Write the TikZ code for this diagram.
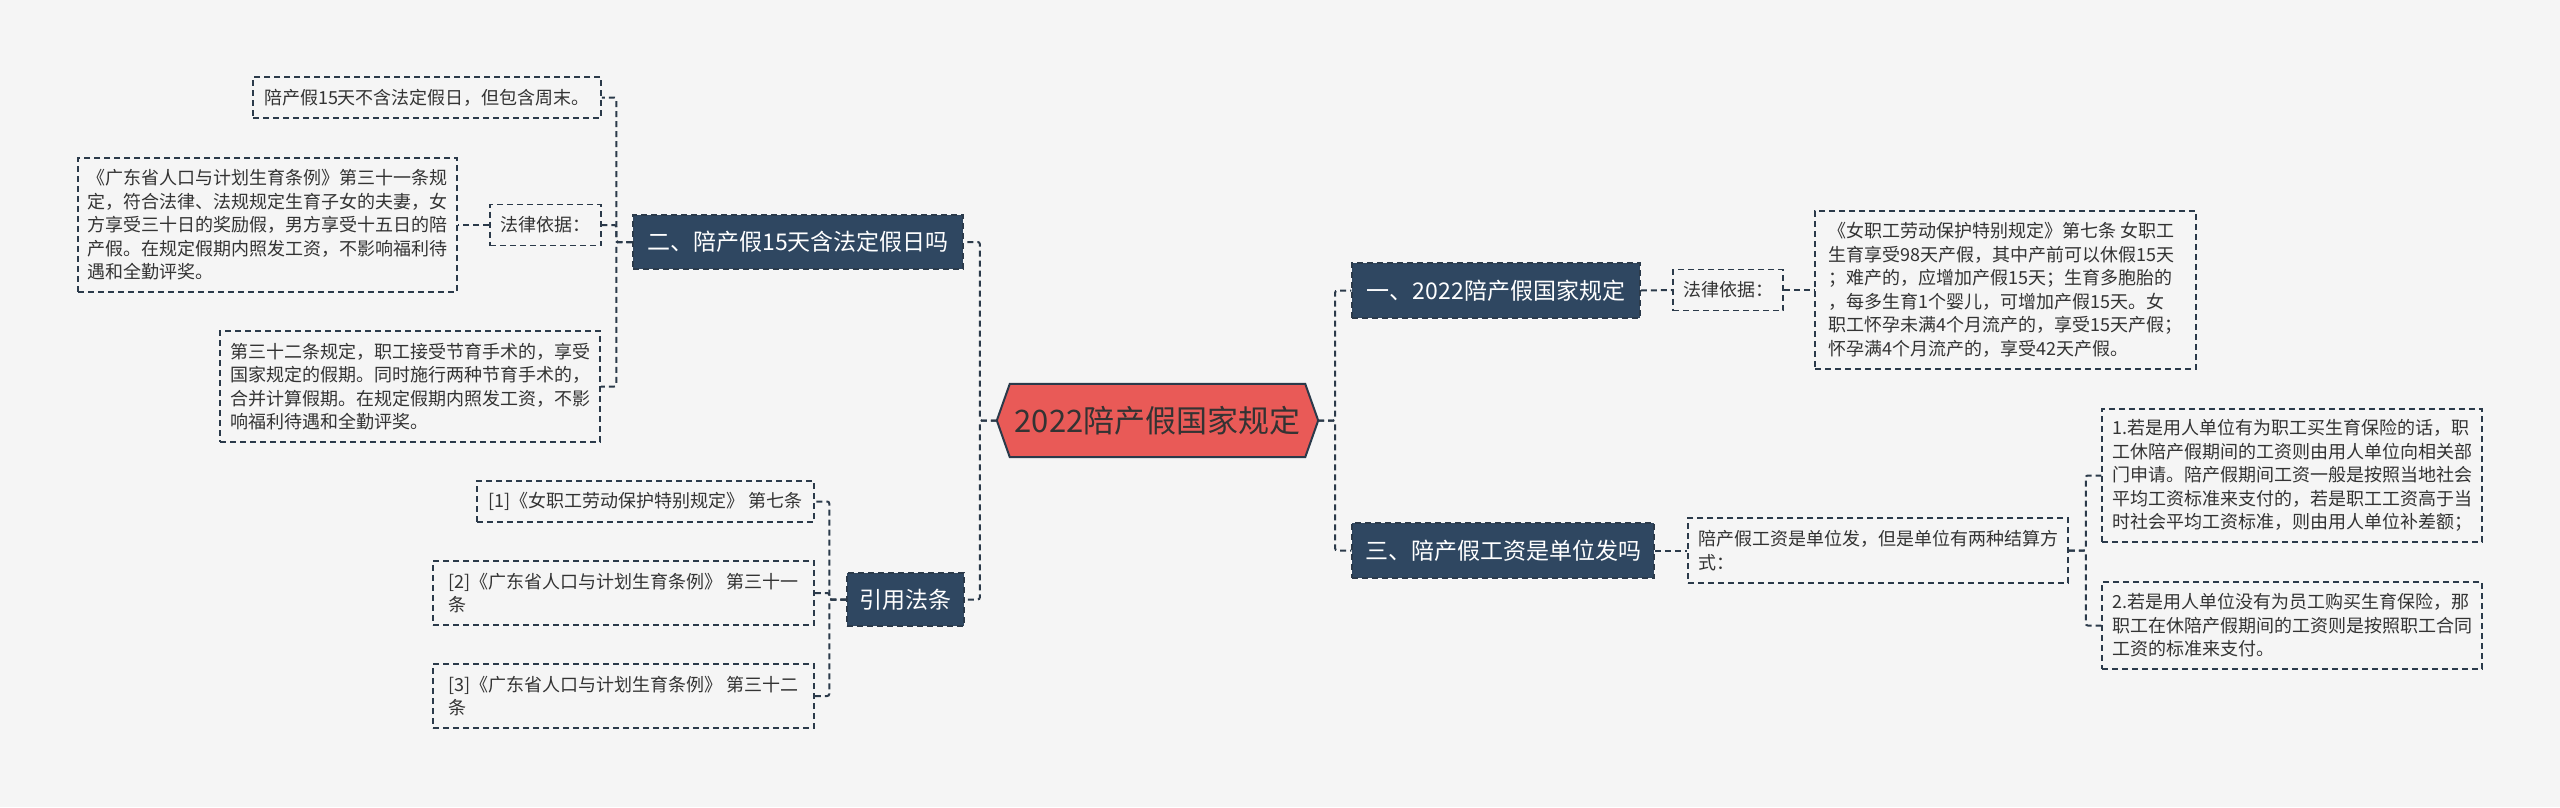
\documentclass[tikz,border=0pt]{standalone}
\usepackage{fontspec}
\setmainfont{Noto Sans CJK SC}
\usetikzlibrary{backgrounds}
\definecolor{bgc}{HTML}{F5F5F5}
\definecolor{navy}{HTML}{2F4761}
\definecolor{rootred}{HTML}{E95A57}
\definecolor{edgec}{HTML}{2B3A4A}
\definecolor{txt}{HTML}{333333}
\tikzset{
  leaf/.style 2 args={draw=edgec, dash pattern=on 6pt off 4pt, line width=1.5pt,
    text=txt, font=\fontsize{18pt}{23.5pt}\selectfont, align=left,
    inner sep=0pt, minimum width=#1, minimum height=#2},
  topic/.style 2 args={fill=navy, draw=edgec, dash pattern=on 6pt off 4pt, line width=1.5pt,
    text=white, font=\fontsize{23pt}{28pt}\selectfont, inner sep=0pt,
    minimum width=#1, minimum height=#2},
  conn/.style={draw=edgec, line width=2pt, dash pattern=on 6pt off 4pt, rounded corners=2pt},
}
\begin{document}
\begin{tikzpicture}[x=1pt,y=-1pt]
\useasboundingbox (0,0) rectangle (2560,807);
% root
\node[inner sep=0pt, minimum width=321, minimum height=73, text=txt,
      font=\fontsize{31pt}{36pt}\selectfont] (root) at (1157.5,420.5) {2022陪产假国家规定};
% topics
\node[topic={330}{54}] (n2) at (798,242) {二、陪产假15天含法定假日吗};
\node[topic={117}{53}] (n4) at (905.5,599.5) {引用法条};
\node[topic={288}{55}] (n1) at (1496,290.5) {一、2022陪产假国家规定};
\node[topic={302}{55}] (n3) at (1503,550.5) {三、陪产假工资是单位发吗};
% left leaves
\node[leaf={348}{41}] (a1) at (427,97.5) {陪产假15天不含法定假日，但包含周末。};
\node[leaf={111}{41}] (a2) at (545.5,225) {法律依据：};
\node[leaf={379}{134}] (a3) at (267.5,225) {《广东省人口与计划生育条例》第三十一条规\\定，符合法律、法规规定生育子女的夫妻，女\\方享受三十日的奖励假，男方享受十五日的陪\\产假。在规定假期内照发工资，不影响福利待\\遇和全勤评奖。};
\node[leaf={380}{111}] (a4) at (410,386.5) {第三十二条规定，职工接受节育手术的，享受\\国家规定的假期。同时施行两种节育手术的，\\合并计算假期。在规定假期内照发工资，不影\\响福利待遇和全勤评奖。};
\node[leaf={337}{41}] (c1) at (645.5,501.5) {[1]《女职工劳动保护特别规定》 第七条};
\node[leaf={381}{64}] (c2) at (623.5,593) {[2]《广东省人口与计划生育条例》 第三十一\\条};
\node[leaf={381}{64}] (c3) at (623.5,696) {[3]《广东省人口与计划生育条例》 第三十二\\条};
% right leaves
\node[leaf={110}{41}] (b1) at (1728,290) {法律依据：};
\node[leaf={381}{158}] (b2) at (2005.5,290) {《女职工劳动保护特别规定》第七条 女职工\\生育享受98天产假，其中产前可以休假15天\\；难产的，应增加产假15天；生育多胞胎的\\，每多生育1个婴儿，可增加产假15天。女\\职工怀孕未满4个月流产的，享受15天产假；\\怀孕满4个月流产的，享受42天产假。};
\node[leaf={380}{65}] (b3) at (1878,550.5) {陪产假工资是单位发，但是单位有两种结算方\\式：};
\node[leaf={380}{133}] (b4) at (2292,475.5) {1.若是用人单位有为职工买生育保险的话，职\\工休陪产假期间的工资则由用人单位向相关部\\门申请。陪产假期间工资一般是按照当地社会\\平均工资标准来支付的，若是职工工资高于当\\时社会平均工资标准，则由用人单位补差额；};
\node[leaf={380}{87}] (b5) at (2292,625.5) {2.若是用人单位没有为员工购买生育保险，那\\职工在休陪产假期间的工资则是按照职工合同\\工资的标准来支付。};
% background and root hexagon
\begin{scope}[on background layer]
\fill[bgc] (0,0) rectangle (2560,807);
\draw[fill=rootred, draw=edgec, line width=2pt, line join=miter]
  (root.west) -- ([xshift=13pt]root.north west) -- ([xshift=-13pt]root.north east)
  -- (root.east) -- ([xshift=-13pt]root.south east) -- ([xshift=13pt]root.south west) -- cycle;
\end{scope}
% connectors
\draw[conn] (root.west) -- ++(-17,0) |- (n2.east);
\draw[conn] (root.west) -- ++(-17,0) |- (n4.east);
\draw[conn] (root.east) -- ++(17,0) |- (n1.west);
\draw[conn] (root.east) -- ++(17,0) |- (n3.west);
\draw[conn] (n2.west) -- ++(-16,0) |- (a1.east);
\draw[conn] (n2.west) -- ++(-16,0) |- (a2.east);
\draw[conn] (n2.west) -- ++(-16,0) |- (a4.east);
\draw[conn] (a2.west) -- (a3.east);
\draw[conn] (n4.west) -- ++(-17,0) |- (c1.east);
\draw[conn] (n4.west) -- ++(-17,0) |- (c2.east);
\draw[conn] (n4.west) -- ++(-17,0) |- (c3.east);
\draw[conn] (n1.east) -- (b1.west);
\draw[conn] (b1.east) -- (b2.west);
\draw[conn] (n3.east) -- (b3.west);
\draw[conn] (b3.east) -- ++(17,0) |- (b4.west);
\draw[conn] (b3.east) -- ++(17,0) |- (b5.west);
\end{tikzpicture}
\end{document}
